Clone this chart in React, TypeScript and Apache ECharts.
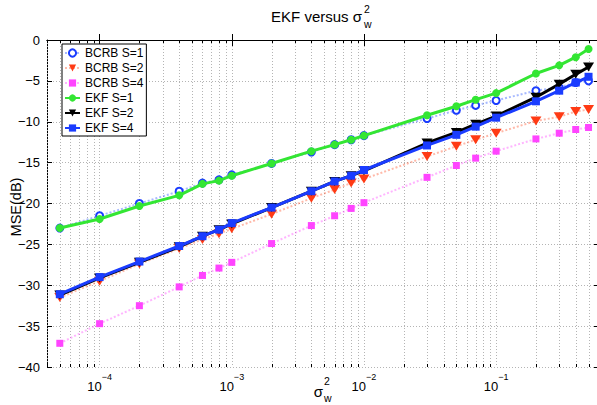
import React, { useEffect, useRef } from "react";
import * as echarts from "echarts";

const xVals = [5e-5, 1e-4, 2e-4, 4e-4, 6e-4, 8e-4, 1e-3, 2e-3, 4e-3, 6e-3, 8e-3, 1e-2, 3e-2, 5e-2, 7e-2, 1e-1, 2e-1, 3e-1, 4e-1, 5e-1];

const bcrb1 = [-23.0, -21.5, -20.0, -18.5, -17.5, -17.1, -16.5, -15.1, -13.7, -12.8, -12.2, -11.7, -9.6, -8.6, -8.0, -7.4, -6.2, -5.8, -5.2, -5.0];
const bcrb2 = [-31.5, -29.5, -27.4, -25.5, -24.4, -23.7, -23.1, -21.3, -19.35, -18.3, -17.5, -17.0, -14.25, -13.0, -12.2, -11.4, -9.9, -9.4, -8.75, -8.5];
const bcrb4 = [-37.1, -34.7, -32.5, -30.2, -28.8, -27.9, -27.2, -24.9, -22.7, -21.5, -20.6, -19.9, -16.8, -15.35, -14.45, -13.6, -12.1, -11.4, -10.95, -10.7];
const ekf1 = [-23.0, -21.9, -20.3, -19.0, -17.6, -17.2, -16.6, -15.1, -13.6, -12.8, -12.2, -11.7, -9.2, -8.1, -7.3, -6.5, -4.1, -3.1, -2.1, -1.1];
const ekf2 = [-31.2, -29.1, -27.2, -25.3, -24.0, -23.2, -22.5, -20.5, -18.5, -17.3, -16.6, -16.0, -12.6, -11.3, -10.3, -9.3, -7.0, -5.4, -4.2, -3.3];
const ekf4 = [-31.1, -29.0, -27.1, -25.2, -24.0, -23.2, -22.4, -20.5, -18.5, -17.3, -16.6, -15.9, -12.9, -11.6, -10.6, -9.5, -7.5, -6.2, -5.2, -4.5];

const seriesNames = ["BCRB S=1", "BCRB S=2", "BCRB S=4", "EKF S=1", "EKF S=2", "EKF S=4"];

const X_MIN = 4e-5;
const X_MAX = 0.6;
const Y_MIN = -40;
const Y_MAX = 0;
const Y_STEP = 5;

const minorVals: number[] = [];
for (let d = -5; d <= 0; d++) {
  for (let k = 2; k <= 9; k++) {
    const v = k * Math.pow(10, d);
    if (v >= X_MIN && v <= X_MAX) minorVals.push(v);
  }
}

const FONT = "'Liberation Sans', Arial, Helvetica, sans-serif";
const GRID_COLOR = "#b4b4b4";

function pairs(ys: number[]) {
  return xVals.map((x, i) => [x, ys[i]]);
}

export default function App() {
  const ref = useRef<HTMLDivElement>(null);
  useEffect(() => {
    if (!ref.current) return;
    const chart = echarts.init(ref.current, null, { renderer: "svg" });

    const dotted = (color: string) => ({ color, width: 2, type: [2, 2] as any });

    const option: any = {
      animation: false,
      backgroundColor: "#fff",
      textStyle: { fontFamily: FONT },
      grid: { left: 47, right: -2, top: 40, bottom: 38, containLabel: false, outerBoundsMode: "none" },
      legend: {
        data: seriesNames,
        orient: "vertical",
        left: 62,
        top: 44,
        padding: [3, 3, 2, 2],
        itemGap: 3,
        itemWidth: 15,
        itemHeight: 9,
        borderColor: "#000",
        borderWidth: 1,
        backgroundColor: "#fff",
        textStyle: { fontSize: 12, color: "#000", fontFamily: FONT },
      },
      xAxis: [
        {
          type: "log",
          logBase: 10,
          min: X_MIN,
          max: X_MAX,
          axisLine: { show: true, lineStyle: { color: "#000", width: 1 } },
          axisTick: { show: true, inside: true, length: 6, lineStyle: { color: "#000" } },
          splitLine: { show: true, lineStyle: { color: GRID_COLOR, type: [1, 2], width: 1 } },
          minorTick: { show: false },
          axisLabel: {
            showMinLabel: false,
            showMaxLabel: false,
            margin: 5,
            formatter: (v: number) => {
              const e = Math.round(Math.log10(v));
              if (Math.abs(Math.log10(v) - e) > 1e-6) return "";
              return "{b|10}{s|" + (e < 0 ? "\u2212" + Math.abs(e) : String(e)) + "}";
            },
            rich: {
              b: { fontSize: 13, color: "#000", fontFamily: FONT, verticalAlign: "bottom", lineHeight: 21 },
              s: { fontSize: 9, color: "#000", fontFamily: FONT, verticalAlign: "top", lineHeight: 10 },
            },
          },
        },
        {
          type: "log",
          logBase: 10,
          position: "top",
          min: X_MIN,
          max: X_MAX,
          axisLine: { show: true, lineStyle: { color: "#000", width: 1 } },
          axisTick: { show: true, inside: true, length: 6, lineStyle: { color: "#000" } },
          axisLabel: { show: false },
          splitLine: { show: false },
        },
      ],
      yAxis: [
        {
          type: "value",
          min: Y_MIN,
          max: Y_MAX,
          interval: Y_STEP,
          axisLine: { show: true, lineStyle: { color: "#000", width: 1 } },
          axisTick: { show: true, inside: true, length: 5, lineStyle: { color: "#000" } },
          splitLine: { show: true, lineStyle: { color: GRID_COLOR, type: [1, 2], width: 1 } },
          axisLabel: {
            fontSize: 13,
            color: "#000",
            margin: 7,
            fontFamily: FONT,
            formatter: (v: number) => (v < 0 ? "\u2212" + Math.abs(v) : String(v)),
          },
        },
        {
          type: "value",
          position: "right",
          min: Y_MIN,
          max: Y_MAX,
          interval: Y_STEP,
          axisLine: { show: true, lineStyle: { color: "#000", width: 1 } },
          axisTick: { show: true, inside: true, length: 5 },
          axisLabel: { show: false },
          splitLine: { show: false },
        },
      ],
      graphic: [
        {
          type: "text",
          x: 362,
          y: 16,
          style: { text: "EKF versus \u03c3", fontSize: 15, fill: "#000", fontFamily: FONT, align: "right", verticalAlign: "middle" },
        },
        { type: "text", x: 364, y: 9, style: { text: "2", fontSize: 10.5, fill: "#000", fontFamily: FONT, align: "left", verticalAlign: "middle" } },
        { type: "text", x: 364, y: 24, style: { text: "w", fontSize: 10.5, fill: "#000", fontFamily: FONT, align: "left", verticalAlign: "middle" } },
        {
          type: "text",
          x: 16,
          y: 207,
          rotation: Math.PI / 2,
          style: { text: "MSE(dB)", fontSize: 14.5, fill: "#000", fontFamily: FONT, align: "center", verticalAlign: "middle" },
        },
        {
          type: "text",
          x: 323,
          y: 391,
          style: { text: "\u03c3", fontSize: 15, fill: "#000", fontFamily: FONT, align: "right", verticalAlign: "middle" },
        },
        { type: "text", x: 324, y: 381, style: { text: "2", fontSize: 10.5, fill: "#000", fontFamily: FONT, align: "left", verticalAlign: "middle" } },
        { type: "text", x: 324, y: 398, style: { text: "w", fontSize: 10.5, fill: "#000", fontFamily: FONT, align: "left", verticalAlign: "middle" } },
      ],
      series: [
        {
          type: "custom",
          name: "minor",
          silent: true,
          z: 1,
          data: minorVals.map((v) => [v, -20]),
          renderItem: (params: any, api: any) => {
            const p = api.coord([api.value(0), api.value(1)]);
            const cs = params.coordSys;
            const x = Math.round(p[0]) + 0.5;
            const top = cs.y;
            const bot = cs.y + cs.height;
            return {
              type: "group",
              children: [
                { type: "line", shape: { x1: x, y1: top, x2: x, y2: bot }, style: { stroke: GRID_COLOR, lineWidth: 1, lineDash: [1, 2] } },
                { type: "line", shape: { x1: x, y1: bot, x2: x, y2: bot - 3 }, style: { stroke: "#000", lineWidth: 1 } },
                { type: "line", shape: { x1: x, y1: top, x2: x, y2: top + 3 }, style: { stroke: "#000", lineWidth: 1 } },
              ],
            };
          },
        },
        {
          name: "BCRB S=1",
          type: "line",
          data: pairs(bcrb1),
          symbol: "circle",
          symbolSize: 7,
          lineStyle: dotted("rgba(60,100,255,0.45)"),
          itemStyle: { color: "#fff", borderColor: "#1a3cff", borderWidth: 2 },
          z: 3,
        },
        {
          name: "BCRB S=2",
          type: "line",
          data: pairs(bcrb2),
          symbol: "triangle",
          symbolRotate: 180,
          symbolSize: [11, 9],
          lineStyle: dotted("rgba(255,80,40,0.4)"),
          itemStyle: { color: "#ff3a14", borderColor: "#ff3a14", borderWidth: 0 },
          z: 3,
        },
        {
          name: "BCRB S=4",
          type: "line",
          data: pairs(bcrb4),
          symbol: "rect",
          symbolSize: 7,
          lineStyle: dotted("rgba(255,70,255,0.4)"),
          itemStyle: { color: "#ff44ff", borderColor: "#ff44ff", borderWidth: 0 },
          z: 3,
        },
        {
          name: "EKF S=1",
          type: "line",
          data: pairs(ekf1),
          symbol: "circle",
          symbolSize: 8,
          lineStyle: { color: "#33e633", width: 3 },
          itemStyle: { color: "#33e633", borderColor: "#33e633", borderWidth: 0 },
          z: 4,
        },
        {
          name: "EKF S=2",
          type: "line",
          data: pairs(ekf2),
          symbol: "triangle",
          symbolRotate: 180,
          symbolSize: [11, 9],
          lineStyle: { color: "#000", width: 3 },
          itemStyle: { color: "#000", borderColor: "#000", borderWidth: 0 },
          z: 4,
        },
        {
          name: "EKF S=4",
          type: "line",
          data: pairs(ekf4),
          symbol: "rect",
          symbolSize: 8,
          lineStyle: { color: "#1a3cff", width: 3 },
          itemStyle: { color: "#1a3cff", borderColor: "#1a3cff", borderWidth: 0 },
          z: 5,
        },
      ],
    };

    chart.setOption(option);
    return () => chart.dispose();
  }, []);

  return (
    <div
      ref={ref}
      style={{ position: "fixed", left: 0, top: 0, width: 597, height: 405, background: "#fff" }}
    />
  );
}
